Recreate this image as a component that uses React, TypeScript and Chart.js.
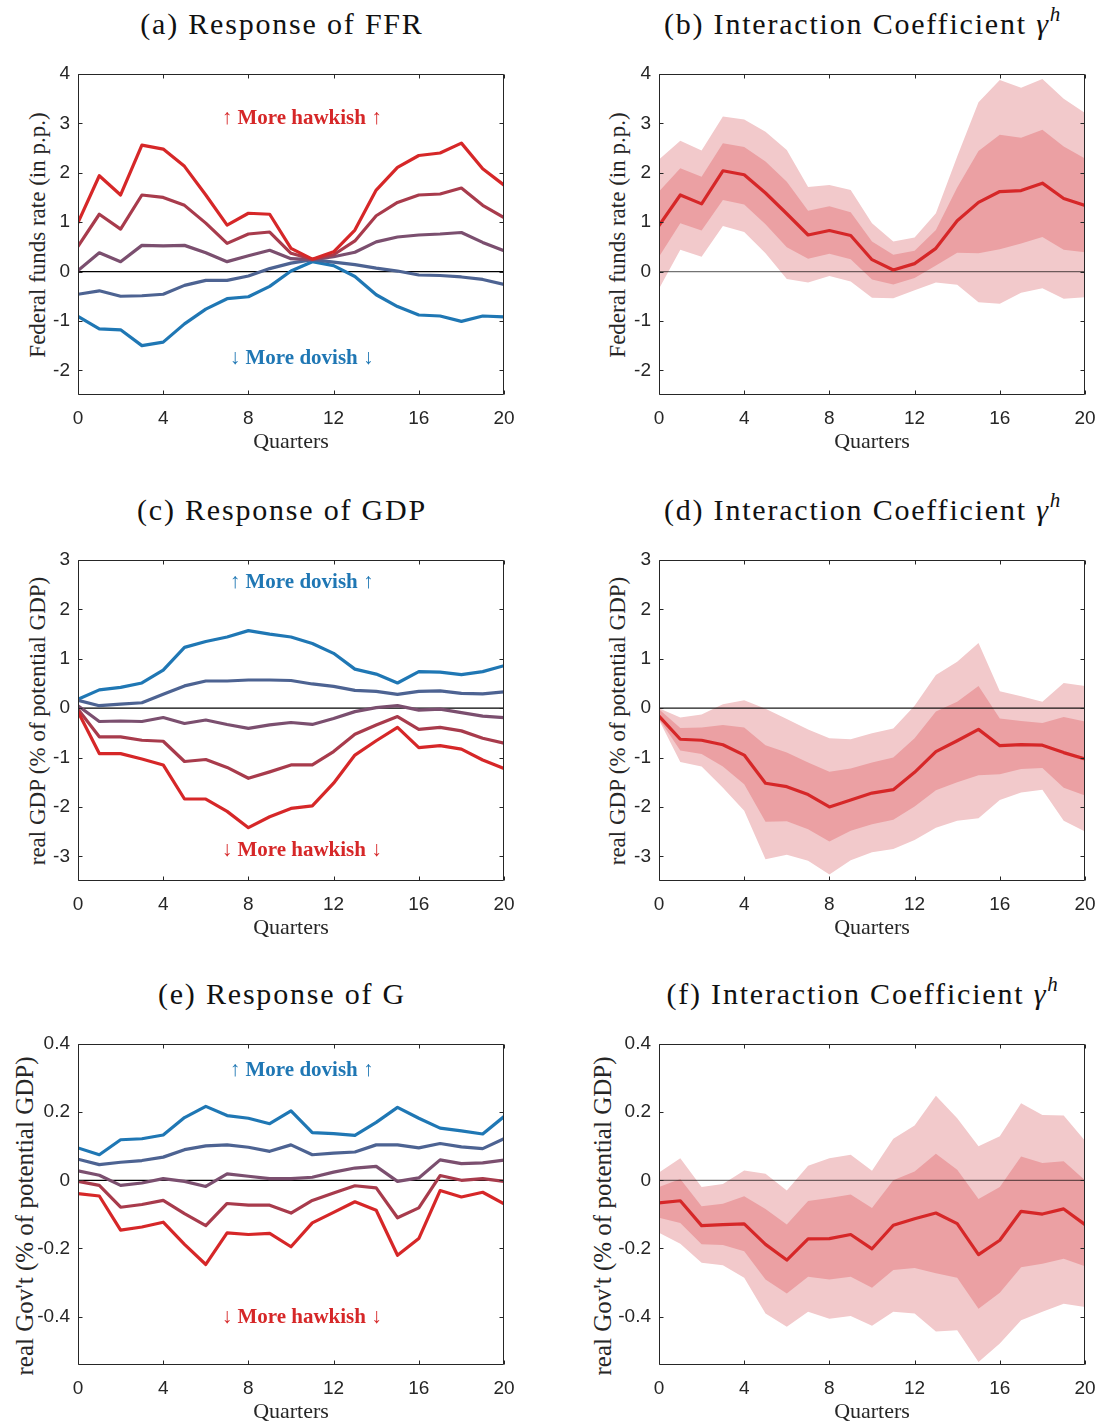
import React, { useEffect, useRef } from "react";
import { Chart, registerables } from "chart.js";

Chart.register(...registerables);

// ---------------- data ----------------
const QUARTERS = [0, 1, 2, 3, 4, 5, 6, 7, 8, 9, 10, 11, 12, 13, 14, 15, 16, 17, 18, 19, 20];
const X_TICKS = [0, 4, 8, 12, 16, 20];
const FFR_TICKS = [-2, -1, 0, 1, 2, 3, 4];
const GDP_TICKS = [-3, -2, -1, 0, 1, 2, 3];
const G_TICKS = [-0.4, -0.2, 0, 0.2, 0.4];

// (a) Response of FFR: from most hawkish (red) to most dovish (blue)
const FFR_R1 = [0.99, 1.94, 1.55, 2.56, 2.48, 2.13, 1.55, 0.94, 1.18, 1.16, 0.47, 0.25, 0.4, 0.84, 1.65, 2.11, 2.35, 2.4, 2.6, 2.08, 1.75];
const FFR_R2 = [0.51, 1.16, 0.86, 1.55, 1.5, 1.34, 0.98, 0.57, 0.76, 0.8, 0.37, 0.25, 0.34, 0.62, 1.13, 1.4, 1.55, 1.57, 1.69, 1.34, 1.09];
const FFR_R3 = [0.02, 0.38, 0.2, 0.53, 0.52, 0.53, 0.38, 0.2, 0.32, 0.43, 0.26, 0.24, 0.3, 0.39, 0.6, 0.7, 0.74, 0.76, 0.79, 0.59, 0.42];
const FFR_R4 = [-0.46, -0.39, -0.5, -0.49, -0.46, -0.28, -0.18, -0.18, -0.09, 0.06, 0.17, 0.24, 0.19, 0.14, 0.07, 0.01, -0.07, -0.08, -0.11, -0.16, -0.26];
const FFR_R5 = [-0.91, -1.16, -1.18, -1.5, -1.43, -1.06, -0.76, -0.55, -0.51, -0.3, 0.01, 0.2, 0.12, -0.1, -0.47, -0.71, -0.88, -0.9, -1.01, -0.9, -0.92];

// (b) Interaction coefficient, FFR
const FFR_MED = [0.93, 1.55, 1.37, 2.04, 1.96, 1.59, 1.17, 0.74, 0.83, 0.73, 0.24, 0.03, 0.16, 0.47, 1.03, 1.4, 1.62, 1.64, 1.79, 1.48, 1.34];
const FFR_IN_HI = [1.62, 2.09, 1.92, 2.6, 2.52, 2.23, 1.82, 1.23, 1.32, 1.2, 0.61, 0.34, 0.42, 0.84, 1.7, 2.44, 2.77, 2.71, 2.87, 2.53, 2.29];
const FFR_IN_LO = [0.3, 0.98, 0.83, 1.45, 1.36, 0.96, 0.49, 0.26, 0.36, 0.25, -0.16, -0.26, -0.13, 0.12, 0.38, 0.37, 0.45, 0.57, 0.7, 0.44, 0.39];
const FFR_OUT_HI = [2.27, 2.65, 2.45, 3.14, 3.08, 2.83, 2.46, 1.71, 1.75, 1.65, 0.98, 0.61, 0.69, 1.18, 2.33, 3.43, 3.88, 3.72, 3.9, 3.5, 3.21];
const FFR_OUT_LO = [-0.35, 0.44, 0.3, 0.92, 0.8, 0.37, -0.15, -0.22, -0.09, -0.2, -0.53, -0.54, -0.38, -0.22, -0.27, -0.62, -0.65, -0.43, -0.34, -0.55, -0.52];

// (c) Response of GDP
const GDP_R1 = [-0.07, -0.92, -0.92, -1.03, -1.15, -1.84, -1.84, -2.09, -2.42, -2.2, -2.03, -1.98, -1.52, -0.95, -0.66, -0.39, -0.8, -0.76, -0.83, -1.05, -1.22];
const GDP_R2 = [-0.02, -0.58, -0.58, -0.65, -0.67, -1.08, -1.04, -1.2, -1.42, -1.29, -1.15, -1.15, -0.88, -0.53, -0.34, -0.17, -0.43, -0.39, -0.46, -0.61, -0.71];
const GDP_R3 = [0.05, -0.27, -0.26, -0.27, -0.19, -0.31, -0.24, -0.33, -0.41, -0.34, -0.29, -0.33, -0.21, -0.07, 0.01, 0.05, -0.04, -0.02, -0.09, -0.16, -0.19];
const GDP_R4 = [0.16, 0.05, 0.08, 0.11, 0.28, 0.45, 0.55, 0.55, 0.57, 0.57, 0.56, 0.49, 0.44, 0.36, 0.34, 0.28, 0.34, 0.35, 0.3, 0.29, 0.33];
const GDP_R5 = [0.18, 0.37, 0.42, 0.51, 0.77, 1.23, 1.35, 1.44, 1.57, 1.5, 1.44, 1.31, 1.11, 0.79, 0.69, 0.51, 0.74, 0.73, 0.68, 0.74, 0.86];

// (d) Interaction coefficient, GDP
const GDP_MED = [-0.16, -0.63, -0.65, -0.74, -0.95, -1.52, -1.59, -1.75, -2.0, -1.86, -1.72, -1.65, -1.3, -0.88, -0.66, -0.43, -0.76, -0.74, -0.75, -0.9, -1.03];
const GDP_IN_HI = [-0.02, -0.4, -0.39, -0.34, -0.39, -0.75, -0.9, -1.1, -1.29, -1.22, -1.1, -1.0, -0.61, -0.07, 0.13, 0.45, -0.21, -0.26, -0.3, -0.18, -0.27];
const GDP_IN_LO = [-0.22, -0.86, -0.93, -1.18, -1.54, -2.3, -2.29, -2.45, -2.7, -2.48, -2.35, -2.26, -1.99, -1.66, -1.5, -1.36, -1.34, -1.23, -1.21, -1.61, -1.77];
const GDP_OUT_HI = [0.0, -0.19, -0.13, 0.08, 0.16, -0.01, -0.22, -0.43, -0.61, -0.63, -0.51, -0.41, 0.05, 0.67, 0.94, 1.32, 0.34, 0.24, 0.13, 0.51, 0.45];
const GDP_OUT_LO = [-0.24, -1.09, -1.18, -1.61, -2.08, -3.06, -2.97, -3.09, -3.37, -3.08, -2.92, -2.85, -2.67, -2.42, -2.28, -2.23, -1.86, -1.71, -1.65, -2.28, -2.5];

// (e) Response of G
const G_R1 = [-0.039, -0.046, -0.146, -0.137, -0.123, -0.188, -0.247, -0.154, -0.159, -0.156, -0.195, -0.125, -0.094, -0.063, -0.088, -0.22, -0.171, -0.03, -0.049, -0.035, -0.069];
const G_R2 = [-0.003, -0.015, -0.079, -0.071, -0.059, -0.098, -0.133, -0.068, -0.073, -0.073, -0.096, -0.059, -0.037, -0.016, -0.022, -0.11, -0.081, 0.014, 0.0, 0.005, -0.003];
const G_R3 = [0.028, 0.015, -0.015, -0.008, 0.005, -0.003, -0.018, 0.019, 0.012, 0.005, 0.005, 0.009, 0.024, 0.036, 0.041, -0.003, 0.007, 0.06, 0.049, 0.051, 0.059];
const G_R4 = [0.062, 0.046, 0.053, 0.058, 0.068, 0.09, 0.101, 0.104, 0.097, 0.085, 0.104, 0.075, 0.08, 0.083, 0.104, 0.104, 0.095, 0.108, 0.098, 0.093, 0.122];
const G_R5 = [0.095, 0.075, 0.119, 0.122, 0.133, 0.184, 0.217, 0.19, 0.182, 0.166, 0.204, 0.14, 0.137, 0.132, 0.17, 0.214, 0.182, 0.153, 0.145, 0.136, 0.187];

// (f) Interaction coefficient, G
const G_MED = [-0.066, -0.06, -0.133, -0.13, -0.128, -0.188, -0.234, -0.172, -0.171, -0.159, -0.201, -0.132, -0.113, -0.096, -0.127, -0.218, -0.176, -0.091, -0.099, -0.084, -0.13];
const G_IN_HI = [-0.02, 0.004, -0.076, -0.069, -0.047, -0.084, -0.13, -0.061, -0.052, -0.042, -0.081, 0.0, 0.026, 0.078, 0.031, -0.055, -0.02, 0.07, 0.051, 0.056, 0.0];
const G_IN_LO = [-0.11, -0.125, -0.188, -0.19, -0.208, -0.291, -0.332, -0.283, -0.291, -0.283, -0.315, -0.263, -0.257, -0.273, -0.286, -0.377, -0.33, -0.255, -0.245, -0.23, -0.252];
const G_OUT_HI = [0.023, 0.065, -0.02, -0.011, 0.029, 0.019, -0.03, 0.043, 0.065, 0.075, 0.028, 0.122, 0.161, 0.248, 0.182, 0.1, 0.129, 0.226, 0.192, 0.19, 0.116];
const G_OUT_LO = [-0.154, -0.186, -0.242, -0.249, -0.286, -0.391, -0.43, -0.386, -0.406, -0.398, -0.427, -0.386, -0.391, -0.444, -0.44, -0.533, -0.479, -0.411, -0.386, -0.362, -0.372];

// ---------------- styles ----------------
const SHADES = ["#D62728", "#A83B4C", "#7B4F6F", "#4D6392", "#1F77B4"];
const RED = "#D62728";
const BLUE = "#1F77B4";
const BAND_OUTER = "#F2C9CB";
const BAND_INNER = "#EBA0A3";
const AXIS_COLOR = "#262626";
const SERIF = '"Liberation Serif", "Times New Roman", serif';
const SANS = '"Liberation Sans", Arial, sans-serif';

const YW = 78; // y-axis box width
const XH = 56; // x-axis box height
const PT = 18; // padding above plot
const PR = 14; // padding right of plot
const PLOT_W = 426;
const PLOT_H = 321;
const COL_X = [78, 659];
const ROW_Y = [74, 560, 1044];
const TICK_LEN = 4;

const pts = (vals: number[]) => QUARTERS.map((q, i) => ({ x: q, y: vals[i] }));

const lineDs = (vals: number[], color: string, order: number) => ({
  data: pts(vals),
  borderColor: color,
  backgroundColor: color,
  borderWidth: 3.2,
  pointRadius: 0,
  fill: false,
  tension: 0,
  order,
  borderJoinStyle: "round",
  borderCapStyle: "round",
});

const bandDs = (vals: number[], color: string, fill: any, order: number) => ({
  data: pts(vals),
  borderWidth: 0,
  borderColor: "rgba(0,0,0,0)",
  backgroundColor: color,
  pointRadius: 0,
  fill,
  tension: 0,
  order,
});

const zeroDs = (color: string, order: number) => ({
  data: [
    { x: QUARTERS[0], y: 0 },
    { x: QUARTERS[QUARTERS.length - 1], y: 0 },
  ],
  borderColor: color,
  borderWidth: 1.2,
  pointRadius: 0,
  fill: false,
  order,
});

const fanSets = (r1: number[], r2: number[], r3: number[], r4: number[], r5: number[]) => [
  lineDs(r1, SHADES[0], 1),
  lineDs(r2, SHADES[1], 2),
  lineDs(r3, SHADES[2], 3),
  lineDs(r4, SHADES[3], 4),
  lineDs(r5, SHADES[4], 5),
  zeroDs("#000000", 20),
];

const bandSets = (
  outHi: number[],
  outLo: number[],
  inHi: number[],
  inLo: number[],
  med: number[],
  zeroColor: string
) => [
  bandDs(outHi, BAND_OUTER, "+1", 30),
  bandDs(outLo, BAND_OUTER, false, 29),
  bandDs(inHi, BAND_INNER, "+1", 28),
  bandDs(inLo, BAND_INNER, false, 27),
  zeroDs(zeroColor, 5),
  lineDs(med, RED, 1),
];

const framePlugin = {
  id: "frame",
  afterDatasetsDraw(chart: any, _args: any, opts: any) {
    const { ctx, chartArea, scales } = chart;
    const xs = scales.x;
    const ys = scales.y;
    const L = Math.round(chartArea.left) + 0.5;
    const R = Math.round(chartArea.right) - 0.5;
    const T = Math.round(chartArea.top) + 0.5;
    const B = Math.round(chartArea.bottom) - 0.5;
    ctx.save();
    ctx.strokeStyle = AXIS_COLOR;
    ctx.lineWidth = 1;
    ctx.beginPath();
    ctx.rect(L, T, R - L, B - T);
    ctx.stroke();
    ctx.beginPath();
    for (const v of opts.xTicks) {
      const px = Math.round(xs.getPixelForValue(v)) + 0.5;
      ctx.moveTo(px, B);
      ctx.lineTo(px, B - TICK_LEN);
      ctx.moveTo(px, T);
      ctx.lineTo(px, T + TICK_LEN);
    }
    for (const v of opts.yTicks) {
      const py = Math.round(ys.getPixelForValue(v)) + 0.5;
      ctx.moveTo(L, py);
      ctx.lineTo(L + TICK_LEN, py);
      ctx.moveTo(R, py);
      ctx.lineTo(R - TICK_LEN, py);
    }
    ctx.stroke();
    ctx.font = `bold 21px ${SERIF}`;
    ctx.textAlign = "center";
    ctx.textBaseline = "middle";
    for (const n of opts.notes || []) {
      ctx.fillStyle = n.color;
      ctx.fillText(n.text, xs.getPixelForValue(n.x), ys.getPixelForValue(n.y));
    }
    ctx.restore();
  },
};

type PanelSpec = {
  col: number;
  row: number;
  yMin: number;
  yMax: number;
  yTicks: number[];
  yFmt: (v: number) => string;
  datasets: any[];
  notes: { x: number; y: number; text: string; color: string }[];
};

const intFmt = (v: number) => String(v);
const decFmt = (v: number) => (v === 0 ? "0" : v.toFixed(1));

const PANELS: PanelSpec[] = [
  {
    col: 0, row: 0, yMin: -2.5, yMax: 4, yTicks: FFR_TICKS, yFmt: intFmt,
    datasets: fanSets(FFR_R1, FFR_R2, FFR_R3, FFR_R4, FFR_R5),
    notes: [
      { x: 10.5, y: 3.09, text: "↑ More hawkish ↑", color: RED },
      { x: 10.5, y: -1.77, text: "↓ More dovish ↓", color: BLUE },
    ],
  },
  {
    col: 1, row: 0, yMin: -2.5, yMax: 4, yTicks: FFR_TICKS, yFmt: intFmt,
    datasets: bandSets(FFR_OUT_HI, FFR_OUT_LO, FFR_IN_HI, FFR_IN_LO, FFR_MED, "rgba(0,0,0,0.55)"),
    notes: [],
  },
  {
    col: 0, row: 1, yMin: -3.5, yMax: 3, yTicks: GDP_TICKS, yFmt: intFmt,
    datasets: fanSets(GDP_R1, GDP_R2, GDP_R3, GDP_R4, GDP_R5),
    notes: [
      { x: 10.5, y: 2.54, text: "↑ More dovish ↑", color: BLUE },
      { x: 10.5, y: -2.89, text: "↓ More hawkish ↓", color: RED },
    ],
  },
  {
    col: 1, row: 1, yMin: -3.5, yMax: 3, yTicks: GDP_TICKS, yFmt: intFmt,
    datasets: bandSets(GDP_OUT_HI, GDP_OUT_LO, GDP_IN_HI, GDP_IN_LO, GDP_MED, "rgba(0,0,0,0.9)"),
    notes: [],
  },
  {
    col: 0, row: 2, yMin: -0.542, yMax: 0.4, yTicks: G_TICKS, yFmt: decFmt,
    datasets: fanSets(G_R1, G_R2, G_R3, G_R4, G_R5),
    notes: [
      { x: 10.5, y: 0.321, text: "↑ More dovish ↑", color: BLUE },
      { x: 10.5, y: -0.402, text: "↓ More hawkish ↓", color: RED },
    ],
  },
  {
    col: 1, row: 2, yMin: -0.542, yMax: 0.4, yTicks: G_TICKS, yFmt: decFmt,
    datasets: bandSets(G_OUT_HI, G_OUT_LO, G_IN_HI, G_IN_LO, G_MED, "rgba(0,0,0,0.55)"),
    notes: [],
  },
];

const TITLES = [
  { col: 0, row: 0, label: "(a) Response of FFR", gamma: false },
  { col: 1, row: 0, label: "(b) Interaction Coefficient ", gamma: true },
  { col: 0, row: 1, label: "(c) Response of GDP", gamma: false },
  { col: 1, row: 1, label: "(d) Interaction Coefficient ", gamma: true },
  { col: 0, row: 2, label: "(e) Response of G", gamma: false },
  { col: 1, row: 2, label: "(f) Interaction Coefficient ", gamma: true },
];

const Y_LABELS = [
  { x: 37, y: 234.5, size: 23, text: "Federal funds rate (in p.p.)" },
  { x: 617, y: 234.5, size: 23, text: "Federal funds rate (in p.p.)" },
  { x: 37, y: 720.5, size: 23, text: "real GDP (% of potential GDP)" },
  { x: 617, y: 720.5, size: 23, text: "real GDP (% of potential GDP)" },
  { x: 24, y: 1216, size: 25, text: "real Gov't (% of potential GDP)" },
  { x: 602, y: 1216, size: 25, text: "real Gov't (% of potential GDP)" },
];

function Panel({ spec }: { spec: PanelSpec }) {
  const ref = useRef<HTMLCanvasElement>(null);
  const W = YW + PLOT_W + PR;
  const H = PT + PLOT_H + XH;
  useEffect(() => {
    const chart = new Chart(ref.current as HTMLCanvasElement, {
      type: "line",
      data: { datasets: spec.datasets as any },
      plugins: [framePlugin as any],
      options: {
        animation: false,
        responsive: false,
        devicePixelRatio: 1,
        events: [],
        layout: { padding: { left: 0, right: PR, top: PT, bottom: 0 } },
        plugins: {
          legend: { display: false },
          tooltip: { enabled: false },
          title: { display: false },
          frame: { notes: spec.notes, xTicks: X_TICKS, yTicks: spec.yTicks },
        } as any,
        scales: {
          x: {
            type: "linear",
            position: "bottom",
            min: QUARTERS[0],
            max: QUARTERS[QUARTERS.length - 1],
            afterBuildTicks: (s: any) => {
              s.ticks = X_TICKS.map((v) => ({ value: v }));
            },
            afterFit: (s: any) => {
              s.height = XH;
              s.paddingLeft = 0;
              s.paddingRight = 0;
            },
            grid: { display: false, drawTicks: false },
            border: { display: false },
            ticks: {
              padding: 12,
              autoSkip: false,
              maxRotation: 0,
              minRotation: 0,
              color: AXIS_COLOR,
              font: { family: SANS, size: 19 },
              callback: (v: any) => String(v),
            },
            title: {
              display: true,
              text: "Quarters",
              color: AXIS_COLOR,
              font: { family: SERIF, size: 22, lineHeight: 0.8 },
              padding: { top: 0, bottom: 0 },
            },
          },
          y: {
            type: "linear",
            min: spec.yMin,
            max: spec.yMax,
            afterBuildTicks: (s: any) => {
              s.ticks = spec.yTicks.map((v) => ({ value: v }));
            },
            afterFit: (s: any) => {
              s.width = YW;
              s.paddingTop = 0;
              s.paddingBottom = 0;
            },
            grid: { display: false, drawTicks: false },
            border: { display: false },
            ticks: {
              padding: 8,
              autoSkip: false,
              color: AXIS_COLOR,
              font: { family: SANS, size: 19 },
              callback: (v: any) => spec.yFmt(Number(v)),
            },
            title: { display: false },
          },
        },
      } as any,
    });
    return () => chart.destroy();
  }, []);
  return (
    <canvas
      ref={ref}
      width={W}
      height={H}
      style={{
        position: "absolute",
        left: COL_X[spec.col] - YW,
        top: ROW_Y[spec.row] - PT,
        width: W,
        height: H,
      }}
    />
  );
}

export default function App() {
  return (
    <div
      style={{
        position: "absolute",
        left: 0,
        top: 0,
        width: 1099,
        height: 1422,
        overflow: "hidden",
        background: "#ffffff",
      }}
    >
      {TITLES.map((t, i) => {
        const cx = COL_X[t.col] + PLOT_W / 2 - 9;
        const cy = ROW_Y[t.row] - 50.5;
        return (
          <div
            key={"t" + i}
            style={{
              position: "absolute",
              left: cx - 300,
              width: 600,
              top: cy - 15,
              textAlign: "center",
              fontFamily: SERIF,
              fontSize: 30,
              lineHeight: "30px",
              letterSpacing: "1.8px",
              color: "#111111",
              whiteSpace: "nowrap",
            }}
          >
            {t.label}
            {t.gamma ? (
              <>
                <span style={{ fontStyle: "italic" }}>γ</span>
                <span
                  style={{
                    fontStyle: "italic",
                    fontSize: 21,
                    position: "relative",
                    top: -13,
                    lineHeight: "0px",
                  }}
                >
                  h
                </span>
              </>
            ) : null}
          </div>
        );
      })}
      {Y_LABELS.map((l, i) => (
        <div
          key={"y" + i}
          style={{
            position: "absolute",
            left: l.x,
            top: l.y,
            transform: "translate(-50%, -50%) rotate(-90deg)",
            fontFamily: SERIF,
            fontSize: l.size,
            lineHeight: `${l.size}px`,
            color: AXIS_COLOR,
            whiteSpace: "nowrap",
          }}
        >
          {l.text}
        </div>
      ))}
      {PANELS.map((p, i) => (
        <Panel key={"p" + i} spec={p} />
      ))}
    </div>
  );
}
